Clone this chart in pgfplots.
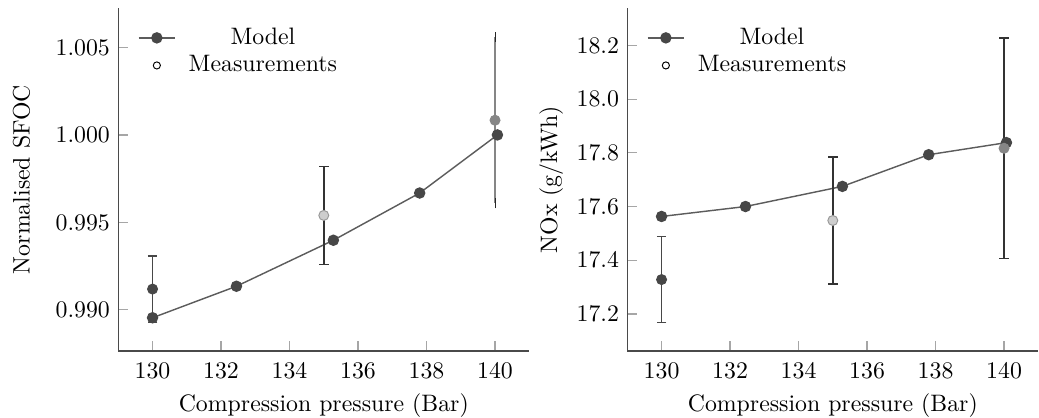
\documentclass[border=0pt]{standalone}
\usepackage{pgfplots}
\pgfplotsset{compat=1.18}
\usepackage{pgfplotstable}

\definecolor{modelgray}{HTML}{474747}
\definecolor{linegray}{HTML}{5C5C5C}
\definecolor{midgray}{HTML}{868686}
\definecolor{lightfill}{HTML}{CDCDCD}
\definecolor{axisgray}{HTML}{4A4A4A}

% Model: pressure, normalised SFOC, NOx
\pgfplotstableread{
x      sfoc     nox
130.0  0.98955  17.563
132.45 0.99135  17.600
135.28 0.99398  17.675
137.80 0.99668  17.793
140.07 1.00000  17.838
}\modeldata

\pgfplotsset{
  panel/.style={
    scale only axis,
    width=172.7pt, height=144.1pt,
    xmin=129, xmax=141,
    xtick={130,132,...,140},
    axis lines*=left,
    axis line style={axisgray, line width=0.6pt},
    tick style={gray!70, line width=0.5pt},
    major tick length=4.2pt,
    tick align=inside,
    xticklabel style={yshift=-1.7pt},
    xlabel={Compression pressure (Bar)},
    xlabel style={inner ysep=0.3pt, yshift=-2.3pt},
    legend style={draw=none, fill=none, at={(0,1)}, anchor=north west,
                  xshift=8pt, yshift=-7.1pt, inner sep=0pt,
                  nodes={inner sep=1pt}, row sep=1.2pt, column sep=4.4pt},
    legend cell align=center,
    legend image code/.code={%
      \draw[mark repeat=2, mark phase=2, #1]
        plot coordinates {(0pt,0pt) (7.7pt,0pt) (15.4pt,0pt)};},
    error bars/error bar style={line width=0.6pt},
    error bars/error mark options={rotate=90, mark size=2pt, line width=0.6pt},
    % a little white space above the frame
    after end axis/.code={\path (rel axis cs:0,1) -- ++(0pt,3.4pt);},
  },
  modelline/.style={linegray, line width=0.6pt, mark=*, mark size=2.1pt,
                    mark options={fill=modelgray, draw=modelgray}},
  meas/.style={only marks, mark=*, mark size=2.1pt,
               error bars/y dir=both, error bars/y explicit},
  measlegend/.style={only marks, mark=o, mark size=1.5pt, black},
}

\begin{document}
\begin{tikzpicture}

\begin{axis}[panel,
  ymin=0.98765, ymax=1.00725,
  ytick={0.990,0.995,1.000,1.005},
  yticklabel style={/pgf/number format/.cd, fixed, fixed zerofill, precision=3},
  ylabel={Normalised SFOC},
  ylabel style={inner sep=5.4pt, yshift=1.8pt},
]
\addplot[modelline] table[x=x, y=sfoc] {\modeldata};
\addlegendentry{Model}
\addlegendimage{measlegend}
\addlegendentry{Measurements}
\addplot[meas, mark options={fill=modelgray, draw=modelgray},
  error bars/error bar style={modelgray}]
  coordinates {(130,0.99119) +- (0,0.0019)};
\addplot[meas, mark options={fill=lightfill, draw=gray!80},
  error bars/error bar style={black!80}]
  coordinates {(135,0.99540) +- (0,0.0028)};
\addplot[meas, mark options={fill=midgray, draw=midgray},
  error bars/error bar style={midgray},
  error bars/error mark options={black!85}]
  coordinates {(140,1.00084) +- (0,0.00475)};
\end{axis}

\begin{axis}[panel, xshift=213.9pt,
  ymin=17.062, ymax=18.339,
  ytick={17.2,17.4,...,18.2},
  yticklabel style={/pgf/number format/.cd, fixed, fixed zerofill, precision=1},
  ylabel={NOx (g/kWh)},
  ylabel style={inner sep=4.2pt, yshift=-2pt},
]
\addplot[modelline] table[x=x, y=nox] {\modeldata};
\addlegendentry{Model}
\addlegendimage{measlegend}
\addlegendentry{Measurements}
\addplot[meas, mark options={fill=modelgray, draw=modelgray},
  error bars/error bar style={modelgray}]
  coordinates {(130,17.328) +- (0,0.16)};
\addplot[meas, mark options={fill=lightfill, draw=gray!80},
  error bars/error bar style={black!80}]
  coordinates {(135,17.548) +- (0,0.237)};
\addplot[meas, mark options={fill=midgray, draw=midgray},
  error bars/error bar style={black!80}]
  coordinates {(140,17.817) +- (0,0.41)};
\end{axis}

\end{tikzpicture}
\end{document}
